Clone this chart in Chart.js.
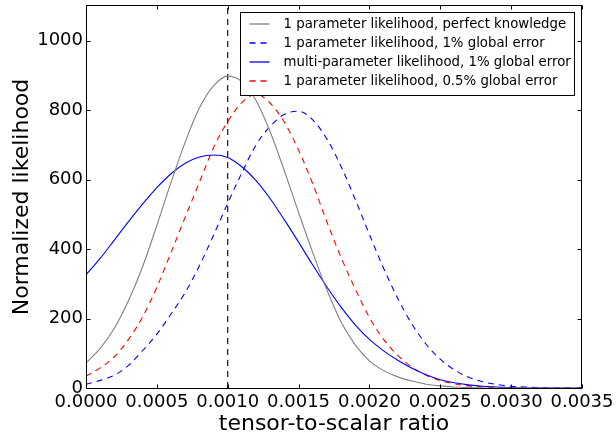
<!DOCTYPE html>
<html>
<head>
<meta charset="utf-8">
<script src="https://cdn.jsdelivr.net/npm/chart.js@4.4.1/dist/chart.umd.min.js"></script>
<style>
html,body{margin:0;padding:0;background:#fff;}
#wrap{width:616px;height:436px;position:relative;}
</style>
</head>
<body>
<div id="wrap"><canvas id="c" width="616" height="436"></canvas></div>
<script>
// ---- data ----
const ratioGrid = [0, 0.0001, 0.0002, 0.0003, 0.0004, 0.0005, 0.0006, 0.0007, 0.0008, 0.0009,
  0.0010, 0.0011, 0.0012, 0.0013, 0.0014, 0.0015, 0.0016, 0.0017, 0.0018, 0.0019,
  0.0020, 0.0021, 0.0022, 0.0023, 0.0024, 0.0025, 0.0026, 0.0027, 0.0028, 0.0029,
  0.0030, 0.0031, 0.0032, 0.0033, 0.0034, 0.0035];

const seriesLabels = [
  "1 parameter likelihood, perfect knowledge",
  "1 parameter likelihood, 1% global error",
  "multi-parameter likelihood, 1% global error",
  "1 parameter likelihood, 0.5% global error"
];

const perfectKnowledge = [72, 114, 172, 252, 350, 468, 592, 708, 806, 870,
  898, 882, 828, 737, 625, 506, 390, 282, 190, 124,
  78, 50, 32, 20, 11, 6, 3, 1, 0, 0,
  0, 0, 0, 0, 0, 0];

const oneParam1pct = [11, 22, 37, 65, 108, 155, 213, 275, 352, 440,
  532, 620, 700, 754, 788, 797, 772, 717, 638, 543,
  442, 345, 258, 184, 126, 83, 52, 31, 18, 10,
  5, 3, 1, 0, 0, 0];

const multiParam1pct = [326, 373, 426, 479, 530, 577, 617, 647, 665, 671,
  664, 637, 597, 545, 484, 420, 354, 291, 233, 182,
  140, 107, 80, 57, 38, 24, 15, 9, 5, 3,
  1, 0, 0, 0, 0, 0];

const oneParamHalfPct = [34, 58, 90, 140, 205, 290, 390, 492, 592, 692,
  767, 822, 846, 820, 765, 685, 588, 478, 376, 285,
  203, 140, 94, 60, 37, 21, 12, 6, 3, 1,
  0, 0, 0, 0, 0, 0];

const fiducialR = 0.001;
const xTicks = [0, 0.0005, 0.001, 0.0015, 0.002, 0.0025, 0.003, 0.0035];
const yTicks = [0, 200, 400, 600, 800, 1000];
const xRange = [0, 0.0035];
const yRange = [0, 1100];
const xTitle = "tensor-to-scalar ratio";
const yTitle = "Normalized likelihood";

// ---- styles ----
const seriesColors = ['#808080', '#0000ff', '#0000ff', '#ff0000'];
const DASH = [6, 5];
const seriesDashes = [[], DASH, [], DASH];
const LW = 1.1;

// ---- chart ----
const FONT = '"DejaVu Sans", "Liberation Sans", sans-serif';
const toPoints = arr => arr.map((y, i) => ({x: ratioGrid[i], y: y}));
const seriesData = [perfectKnowledge, oneParam1pct, multiParam1pct, oneParamHalfPct];

const framePlugin = {
  id: 'frame',
  afterDraw(chart) {
    const {ctx, chartArea: a, scales} = chart;
    ctx.save();
    ctx.setLineDash([]);
    ctx.strokeStyle = '#000';
    ctx.lineWidth = 1;
    const L = Math.round(a.left) + 0.5, R = Math.round(a.right) - 0.5;
    const T = Math.round(a.top) - 0.5, B = Math.round(a.bottom) + 0.5;
    ctx.strokeRect(L, T, R - L, B - T);
    const tl = 4;
    ctx.beginPath();
    xTicks.forEach(v => {
      const px = Math.round(scales.x.getPixelForValue(v)) + 0.5;
      ctx.moveTo(px, B); ctx.lineTo(px, B - tl);
      ctx.moveTo(px, T); ctx.lineTo(px, T + tl);
    });
    yTicks.forEach(v => {
      const py = Math.round(scales.y.getPixelForValue(v)) + 0.5;
      ctx.moveTo(L, py); ctx.lineTo(L + tl, py);
      ctx.moveTo(R, py); ctx.lineTo(R - tl, py);
    });
    ctx.stroke();

    // legend box
    ctx.font = '13.3px ' + FONT;
    const maxW = Math.max(...seriesLabels.map(t => ctx.measureText(t).width));
    const padL = 9, lineLen = 20, gap = 14, padR = 4, rowH = 19;
    const boxW = Math.round(padL + lineLen + gap + maxW + padR);
    const boxH = 83;
    const bx = Math.round(a.right - 8 - boxW) + 0.5;
    const by = Math.round(a.top + 6) + 0.5;
    ctx.fillStyle = '#fff';
    ctx.fillRect(bx, by, boxW, boxH);
    ctx.strokeStyle = '#000';
    ctx.lineWidth = 1;
    ctx.strokeRect(bx, by, boxW, boxH);
    seriesLabels.forEach((label, i) => {
      const cy = Math.round(by + 11.5 + i * rowH);
      const x0 = bx + padL, x1 = bx + padL + lineLen;
      ctx.save();
      ctx.strokeStyle = seriesColors[i];
      ctx.lineWidth = 1.3;
      ctx.setLineDash(seriesDashes[i]);
      ctx.beginPath();
      ctx.moveTo(x0, cy);
      ctx.lineTo(x1, cy);
      ctx.stroke();
      ctx.restore();
      ctx.fillStyle = '#000';
      ctx.textBaseline = 'middle';
      ctx.textAlign = 'left';
      ctx.fillText(label, x1 + gap, cy + 0.5);
    });
    ctx.restore();
  }
};

const datasets = seriesData.map((arr, i) => ({
  label: seriesLabels[i],
  data: toPoints(arr),
  borderColor: seriesColors[i],
  borderWidth: LW,
  borderDash: seriesDashes[i]
}));
datasets.push({
  label: 'fiducial',
  data: [{x: fiducialR, y: yRange[0]}, {x: fiducialR, y: yRange[1]}],
  borderColor: '#000', borderWidth: LW, borderDash: DASH,
  cubicInterpolationMode: 'default', tension: 0
});

new Chart(document.getElementById('c'), {
  type: 'line',
  data: {datasets: datasets},
  options: {
    responsive: false,
    devicePixelRatio: 1,
    animation: false,
    events: [],
    layout: {padding: {left: 0, top: 6, right: 34, bottom: 0}},
    elements: {
      point: {radius: 0},
      line: {cubicInterpolationMode: 'monotone', fill: false}
    },
    plugins: {legend: {display: false}, tooltip: {enabled: false}},
    scales: {
      x: {
        type: 'linear', min: xRange[0], max: xRange[1],
        afterBuildTicks: s => { s.ticks = xTicks.map(v => ({value: v})); },
        afterFit: s => { s.height = 48; s.paddingLeft = 0; s.paddingRight = 0; },
        ticks: {
          autoSkip: false, maxRotation: 0, padding: 4, color: '#000',
          font: {family: FONT, size: 18},
          callback: v => Number(v).toFixed(4)
        },
        grid: {display: false, drawTicks: false},
        border: {display: false},
        title: {display: true, text: xTitle, color: '#000', font: {family: FONT, size: 22, lineHeight: 1}, padding: {top: 0, bottom: 1}}
      },
      y: {
        type: 'linear', min: yRange[0], max: yRange[1],
        afterBuildTicks: s => { s.ticks = yTicks.map(v => ({value: v})); },
        afterFit: s => { s.width = 86; s.paddingTop = 0; s.paddingBottom = 0; },
        ticks: {
          padding: 3, color: '#000',
          font: {family: FONT, size: 18},
          callback: v => String(v)
        },
        grid: {display: false, drawTicks: false},
        border: {display: false},
        title: {display: true, text: yTitle, color: '#000', font: {family: FONT, size: 22, lineHeight: 1}, padding: {top: 11, bottom: 0}}
      }
    }
  },
  plugins: [framePlugin]
});
</script>
</body>
</html>
